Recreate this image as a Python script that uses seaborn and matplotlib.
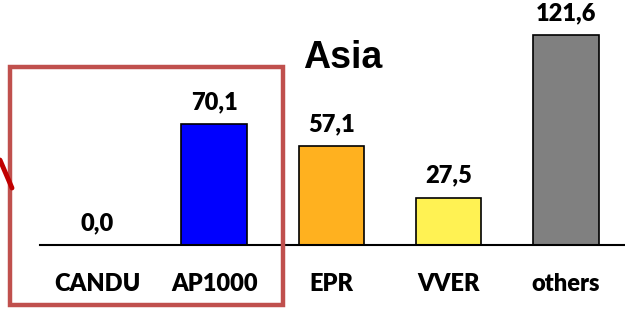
import matplotlib
matplotlib.use("Agg")
import matplotlib.pyplot as plt
import seaborn as sns
import pandas as pd
from matplotlib.patches import Rectangle
from matplotlib.lines import Line2D

categories = ["CANDU", "AP1000", "EPR", "VVER", "others"]
values = [0.0, 70.1, 57.1, 27.5, 121.6]
value_labels = ["0,0", "70,1", "57,1", "27,5", "121,6"]
colors = ["#FFFFFF", "#0000FF", "#FFB11F", "#FFF253", "#808080"]
title = "Asia"

sns.set_theme(style="white")
plt.rcParams["font.family"] = ["Lato", "DejaVu Sans"]
plt.rcParams["text.color"] = "black"

df = pd.DataFrame({"cat": categories, "val": values})

fig = plt.figure(figsize=(6.25, 3.1), dpi=100)
ax = fig.add_axes([0.064, 0.2097, 0.936, 0.7903])
sns.barplot(data=df, x="cat", y="val", hue="cat", palette=colors, legend=False,
            saturation=1, width=0.56, edgecolor="black", linewidth=1.2, ax=ax)
for p, v in zip(ax.patches, values):
    if v == 0:
        p.set_linewidth(0)

ax.set_xlim(-0.487, 4.505)
ax.set_ylim(0, 142)
for s in ["left", "right", "top"]:
    ax.spines[s].set_visible(False)
ax.spines["bottom"].set_color("black")
ax.spines["bottom"].set_linewidth(1.5)
ax.set_yticks([])
ax.set_xlabel("")
ax.set_ylabel("")
ax.tick_params(axis="x", length=0, pad=20)
for lab in ax.get_xticklabels():
    lab.set_fontweight("heavy")
    lab.set_fontsize(17)
    lab.set_color("black")

for i, (v, t) in enumerate(zip(values, value_labels)):
    ax.annotate(t, (i, v), xytext=(0, 8), textcoords="offset points",
                ha="center", va="bottom", fontsize=17, fontweight="heavy", color="black")

fig.text(0.548, 0.781, title, ha="center", va="baseline", color="black",
         fontsize=27, fontweight="bold", family=["Liberation Sans", "DejaVu Sans"])

fig.patches.append(Rectangle((10 / 625, 1 - 305 / 310), 273 / 625, 238 / 310,
                             transform=fig.transFigure, fill=False,
                             edgecolor="#C0504D", linewidth=3.2))
fig.lines.append(Line2D([0, 12 / 625], [1 - 160 / 310, 1 - 188 / 310],
                        transform=fig.transFigure, color="#C00000", linewidth=3.5))

fig.savefig("out.png", dpi=100)
